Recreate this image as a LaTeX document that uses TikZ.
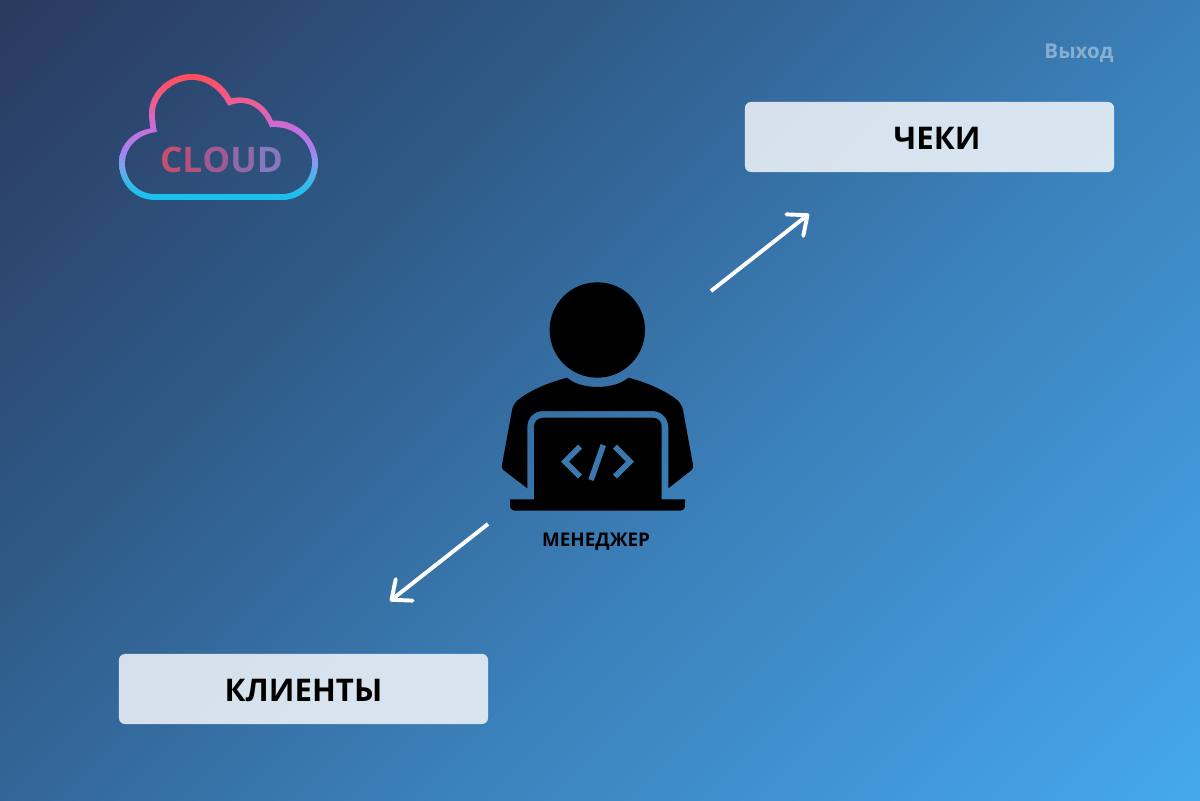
\documentclass[tikz,border=0pt]{standalone}
\usepackage{fontspec}
\setmainfont{Open Sans}
\usetikzlibrary{arrows.meta}

\definecolor{pagea}{HTML}{2A3A5F}
\definecolor{pageb}{HTML}{2F5A88}
\definecolor{pagec}{HTML}{3B7FB8}
\definecolor{paged}{HTML}{45A8EE}
\definecolor{codeblue}{HTML}{3A78AE}
\definecolor{clouda}{HTML}{18C0EE}
\definecolor{cloudb}{HTML}{40B8EA}
\definecolor{cloudc}{HTML}{7DA0EE}
\definecolor{cloudd}{HTML}{A880EE}
\definecolor{cloude}{HTML}{C56FE0}
\definecolor{cloudf}{HTML}{EE5C8E}
\definecolor{cloudg}{HTML}{FF4E5E}

\pgfdeclarehorizontalshading{pageshade}{100bp}{color(0bp)=(pagea); color(32.32bp)=(pagea); color(42.93bp)=(pageb); color(53.54bp)=(pagec); color(67.68bp)=(paged); color(100bp)=(paged)}
\pgfdeclareverticalshading{cloudshade}{100bp}{color(0bp)=(clouda); color(28bp)=(clouda); color(34.3bp)=(cloudb); color(39.8bp)=(cloudc); color(45.4bp)=(cloudd); color(52.8bp)=(cloude); color(63.9bp)=(cloudf); color(72.4bp)=(cloudg); color(100bp)=(cloudg)}

\tikzset{
  pxgrid/.style={x=0.025cm, y=-0.025cm},
  pagefill/.style={shading=pageshade, shading angle=-45},
  menubox/.style={rectangle, rounded corners=4.3pt, fill=white, fill opacity=0.8, text opacity=1,
    text=black, minimum width=9.225cm, minimum height=1.75cm, inner sep=0pt,
    text height=0.6cm, text depth=0pt, font=\fontsize{22.2}{24}\selectfont\bfseries},
  linkarrow/.style={-{Straight Barb[round, length=11.4pt, width=19.4pt]}, white, line width=2.8pt},
}

\begin{document}
\begin{tikzpicture}[pxgrid]
\useasboundingbox (0,0) rectangle (1200,800);
\begin{scope}
\clip (0,0) rectangle (1200,800);
\shade[pagefill] (-400,-600) rectangle (1600,1400);
\end{scope}

% logo
\begin{scope}
\clip (155,200) -- (282,200) .. controls (302,200) and (318,184) .. (318,163)
  .. controls (318,141) and (298,119) .. (272.7,120.7) .. controls (267,106) and (252,94) .. (231,98.3)
  .. controls (224,84) and (209,74) .. (192,74) .. controls (168,74) and (149,93) .. (149,113)
  .. controls (149,118) and (149.5,123) .. (150.5,128.5) .. controls (133,131) and (119,145) .. (119,163)
  .. controls (119,184) and (135,200) .. (155,200) -- cycle;
\shade[shading=cloudshade] (110,70) rectangle (330,205);
\end{scope}
\begin{scope}
\clip (155,194) -- (282,194) .. controls (298,194) and (312,180) .. (312,163)
  .. controls (312,144) and (296,125) .. (270,127.3) .. controls (263,110) and (248,97) .. (228.3,106)
  .. controls (220,90) and (207,80) .. (192,80) .. controls (172,80) and (155,97) .. (155,113)
  .. controls (155,119) and (155.5,125) .. (157,132) .. controls (138,134) and (125,148) .. (125,163)
  .. controls (125,180) and (138,194) .. (155,194) -- cycle;
\shade[pagefill] (-400,-600) rectangle (1600,1400);
\end{scope}
\node (logo) at (221.5,160) {\fontsize{25}{28}\selectfont\bfseries
  \textcolor[HTML]{C4506F}{C}\textcolor[HTML]{B4507F}{L}\textcolor[HTML]{A05A8F}{O}\textcolor[HTML]{9068A5}{U}\textcolor[HTML]{8678BD}{D}};

\node[text=white, text opacity=0.4, font=\fontsize{14.6}{17}\selectfont\bfseries] (logout) at (1079,53) {Выход};

\node[menubox] (checks) at (929.5,137) {\hspace{0.375cm}ЧЕКИ};
\node[menubox] (clients) at (303.5,689) {КЛИЕНТЫ};

% manager
\fill (597.3,330) circle (47.7);
\fill (567.3,377.7) .. controls (580,390) and (615,390) .. (628.3,377.7)
  .. controls (645,382) and (662,389) .. (675,398.3) .. controls (680,402) and (682.5,406) .. (683.3,411.7)
  -- (692.7,463.3) .. controls (693.5,467) and (693,469) .. (691.7,470) -- (668.3,488.3)
  -- (668.3,427) .. controls (668.3,418) and (661,411) .. (652,411) -- (543,411)
  .. controls (534,411) and (527.3,418) .. (527.3,427) -- (527.3,488.3)
  -- (503.3,470) .. controls (502,469) and (501.5,467) .. (502.3,463.3) -- (511.7,411.7)
  .. controls (512.5,406) and (515,402) .. (520,398.3) .. controls (533,389) and (550,382) .. (567.3,377.7) -- cycle;
\fill (534,499.3) -- (534,427) .. controls (534,421) and (538,417.7) .. (544,417.7) -- (652,417.7)
  .. controls (658,417.7) and (661.7,421) .. (661.7,427) -- (661.7,499.3) -- (685,499.3) -- (685,505)
  .. controls (685,509) and (683,510.7) .. (679,510.7) -- (516,510.7) .. controls (512,510.7) and (510,509) .. (510,505)
  -- (510,499.3) -- cycle;
\draw[codeblue, line width=4pt] (580,446.7) -- (565,461.7) -- (580,476.7);
\draw[codeblue, line width=4pt] (603.3,445) -- (591,480);
\draw[codeblue, line width=4pt] (615,446.7) -- (630,461.7) -- (615,476.7);
\node[text=black, font=\fontsize{13.4}{15}\selectfont\bfseries] (manager) at (596,542) {МЕНЕДЖЕР};

\coordinate (upstart) at (711,291);
\coordinate (uptip) at (809,214);
\coordinate (downstart) at (488,524);
\coordinate (downtip) at (390,601);
\draw[linkarrow] (upstart)--(uptip);
\draw[linkarrow] (downstart)--(downtip);
\end{tikzpicture}
\end{document}
